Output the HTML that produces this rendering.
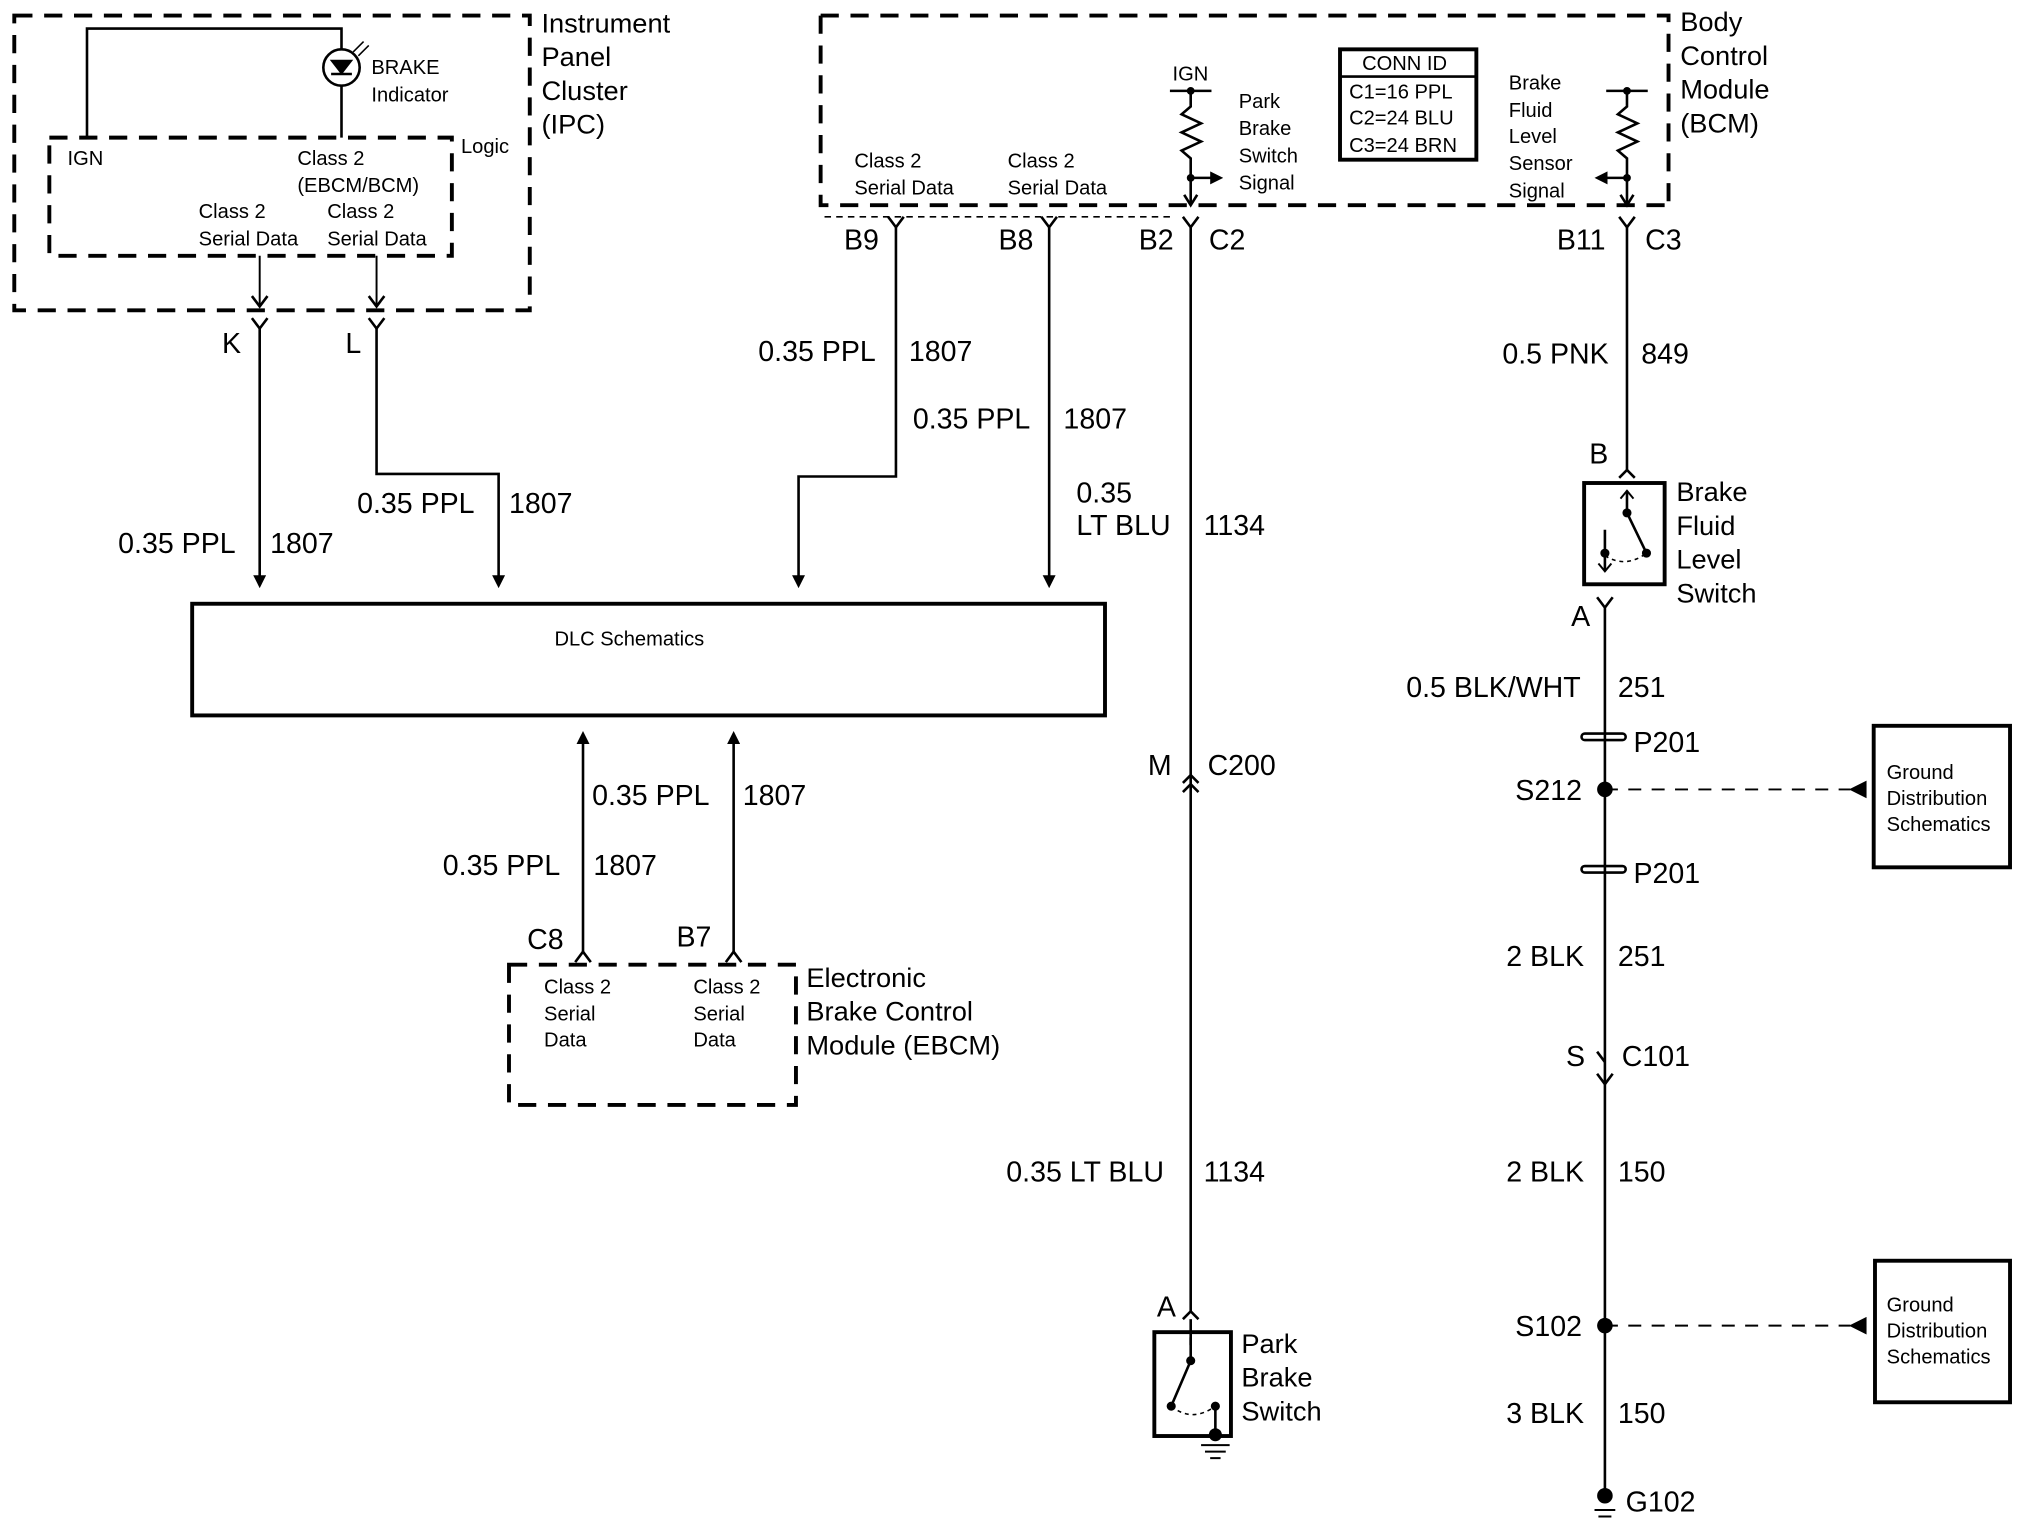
<!DOCTYPE html>
<html><head><meta charset="utf-8"><style>
html,body{margin:0;padding:0;background:#fff;}
svg{display:block}
text{font-family:"Liberation Sans",Arial,sans-serif;fill:#000}
.l{font-size:21px}
.s{font-size:15.5px}
.m{font-size:22px}
</style></head><body>
<svg width="2036" height="1536" viewBox="0 0 1568 1183" preserveAspectRatio="none" xmlns="http://www.w3.org/2000/svg">
<defs>
<marker id="ar" markerWidth="10" markerHeight="10" refX="5" refY="5" orient="auto" markerUnits="userSpaceOnUse"><path d="M0,0 L10,5 L0,10 z" fill="#000"/></marker>
</defs>
<g fill="none" stroke="#000">
<rect x="11" y="12" width="397" height="227" stroke-width="3" stroke-dasharray="14,9"/>
<rect x="38" y="106" width="310" height="91" stroke-width="3" stroke-dasharray="14,9"/>
<path d="M67,106 V22 H263 V38 M263,66 V106" stroke-width="2"/>
<circle cx="263" cy="52" r="14" stroke-width="2"/>
<path d="M256,47 H270 L263,56 Z M255,57 H271" stroke-width="2" fill="#000"/>
<path d="M272,40 L280,32 M276,43 L284,35" stroke-width="1.2"/>
<path d="M200,197 V236 M290,197 V236" stroke-width="1.5"/>
<path d="M194,228 L200,236 L206,228 M284,228 L290,236 L296,228" stroke-width="2"/>
<path d="M194,245 L200,253 L206,245 M284,245 L290,253 L296,245" stroke-width="2"/>
<path d="M200,253 V448" stroke-width="2" marker-end="url(#ar)"/>
<path d="M290,253 V365 H384 V448" stroke-width="2" marker-end="url(#ar)"/>
<path d="M632,12 H1285 V158 M632,12 V158 H1285" stroke-width="3" stroke-dasharray="14,9"/>
<path d="M635,167 H905" stroke-width="1.2" stroke-dasharray="5,4"/>
<path d="M684,167 L690,175 L696,167 M802,167 L808,175 L814,167 M911,167 L917,175 L923,167 M1247,167 L1253,175 L1259,167" stroke-width="2"/>
<path d="M690,175 V367 H615 V448" stroke-width="2" marker-end="url(#ar)"/>
<path d="M808,175 V448" stroke-width="2" marker-end="url(#ar)"/>
<path d="M901,70 H933 M917,70 V82 L910,88 L925,95 L910,102 L925,109 L910,116 L917,122 V158" stroke-width="2"/>
<path d="M917,137 H937" stroke-width="2" marker-end="url(#ar)"/>
<path d="M912,150 L917,158 L922,150" stroke-width="2"/>
<path d="M1237,70 H1269 M1253,70 V82 L1246,88 L1261,95 L1246,102 L1261,109 L1246,116 L1253,122 V158" stroke-width="2"/>
<path d="M1253,137 H1233" stroke-width="2" marker-end="url(#ar)"/>
<path d="M1248,150 L1253,158 L1258,150" stroke-width="2"/>
<rect x="1032" y="38" width="105" height="85" stroke-width="3"/>
<path d="M1032,59 H1137" stroke-width="2"/>
<rect x="148" y="465" width="703" height="86" stroke-width="3"/>
<rect x="392" y="743" width="221" height="108" stroke-width="3" stroke-dasharray="14,9"/>
<path d="M443,741 L449,733 L455,741 M559,741 L565,733 L571,741" stroke-width="2"/>
<path d="M449,733 V568" stroke-width="2" marker-end="url(#ar)"/>
<path d="M565,733 V568" stroke-width="2" marker-end="url(#ar)"/>
<path d="M917,175 V1010" stroke-width="2"/>
<path d="M911,603 L917,597 L923,603 M911,610 L917,604 L923,610" stroke-width="2"/>
<path d="M911,1016 L917,1010 L923,1016" stroke-width="2"/>
<rect x="889" y="1026" width="59" height="80" stroke-width="3"/>
<path d="M917,1016 V1036" stroke-width="2"/>
<path d="M917,1030 V1048 L902,1083" stroke-width="2"/>
<path d="M902,1083 Q918,1096 936,1083" stroke-width="1.2" stroke-dasharray="3,3"/>
<path d="M936,1083 V1105" stroke-width="2"/>
<path d="M925,1113 H947 M928,1118 H944 M932,1123 H940" stroke-width="1.5"/>
<path d="M1253,175 V362" stroke-width="2"/>
<path d="M1247,368 L1253,362 L1259,368" stroke-width="2"/>
<rect x="1220" y="372" width="62" height="78" stroke-width="3"/>
<path d="M1253,378 V395 L1268,426 M1236,408 V440" stroke-width="2"/>
<path d="M1248,384 L1253,378 L1258,384 M1231,434 L1236,440 L1241,434" stroke-width="1.5"/>
<path d="M1236,428 Q1252,438 1268,426" stroke-width="1.2" stroke-dasharray="3,3"/>
<path d="M1230,460 L1236,468 L1242,460 M1236,468 V1150" stroke-width="2"/>
<path d="M1230,827 L1236,835 L1242,827 M1230,810 L1236,818" stroke-width="2"/>
<rect x="1218" y="565" width="34" height="5" rx="2.5" stroke-width="2"/>
<rect x="1218" y="667" width="34" height="5" rx="2.5" stroke-width="2"/>
<path d="M1236,608 H1425 M1236,1021 H1425" stroke-width="1.5" stroke-dasharray="10,8"/>
<path d="M1425,608 L1437,602 V614 Z M1425,1021 L1437,1015 V1027 Z" fill="#000" stroke-width="1"/>
<rect x="1443" y="559" width="105" height="109" stroke-width="3"/>
<rect x="1444" y="971" width="104" height="109" stroke-width="3"/>
</g>
<g fill="#000">
<circle cx="1236" cy="608" r="6"/><circle cx="1236" cy="1021" r="6"/><circle cx="1236" cy="1152" r="6"/>
<circle cx="917" cy="1048" r="3.5"/><circle cx="902" cy="1083" r="3.5"/><circle cx="936" cy="1083" r="3.5"/><circle cx="936" cy="1105" r="5"/>
<circle cx="1253" cy="395" r="3.5"/><circle cx="1268" cy="426" r="3.5"/><circle cx="1236" cy="426" r="3.5"/>
<circle cx="917" cy="70" r="3"/><circle cx="917" cy="137" r="3"/><circle cx="1253" cy="70" r="3"/><circle cx="1253" cy="137" r="3"/>
</g>
<path d="M1228,1163 H1244 M1231,1168 H1241" stroke="#000" stroke-width="1.5"/>
<text class="l" x="417" y="25">Instrument</text><text class="l" x="417" y="51">Panel</text><text class="l" x="417" y="77">Cluster</text><text class="l" x="417" y="103">(IPC)</text>
<text class="s" x="286" y="57">BRAKE</text><text class="s" x="286" y="78">Indicator</text>
<text class="s" x="355" y="118">Logic</text>
<text class="s" x="52" y="127">IGN</text>
<text class="s" x="229" y="127">Class 2</text><text class="s" x="229" y="148">(EBCM/BCM)</text>
<text class="s" x="153" y="168">Class 2</text><text class="s" x="153" y="189">Serial Data</text>
<text class="s" x="252" y="168">Class 2</text><text class="s" x="252" y="189">Serial Data</text>
<text class="m" x="171" y="272">K</text><text class="m" x="266" y="272">L</text>
<text class="m" x="91" y="426">0.35 PPL</text><text class="m" x="208" y="426">1807</text>
<text class="m" x="275" y="395">0.35 PPL</text><text class="m" x="392" y="395">1807</text>
<text class="m" x="584" y="278">0.35 PPL</text><text class="m" x="700" y="278">1807</text>
<text class="m" x="703" y="330">0.35 PPL</text><text class="m" x="819" y="330">1807</text>
<text class="m" x="829" y="387">0.35</text><text class="m" x="829" y="412">LT BLU</text><text class="m" x="927" y="412">1134</text>
<text class="l" x="1294" y="24">Body</text><text class="l" x="1294" y="50">Control</text><text class="l" x="1294" y="76">Module</text><text class="l" x="1294" y="102">(BCM)</text>
<text class="s" x="658" y="129">Class 2</text><text class="s" x="658" y="150">Serial Data</text>
<text class="s" x="776" y="129">Class 2</text><text class="s" x="776" y="150">Serial Data</text>
<text class="s" x="903" y="62">IGN</text>
<text class="s" x="954" y="83">Park</text><text class="s" x="954" y="104">Brake</text><text class="s" x="954" y="125">Switch</text><text class="s" x="954" y="146">Signal</text>
<text class="s" x="1049" y="54">CONN ID</text>
<text class="s" x="1039" y="76">C1=16 PPL</text><text class="s" x="1039" y="96">C2=24 BLU</text><text class="s" x="1039" y="117">C3=24 BRN</text>
<text class="s" x="1162" y="69">Brake</text><text class="s" x="1162" y="90">Fluid</text><text class="s" x="1162" y="110">Level</text><text class="s" x="1162" y="131">Sensor</text><text class="s" x="1162" y="152">Signal</text>
<text class="m" x="650" y="192">B9</text><text class="m" x="769" y="192">B8</text><text class="m" x="877" y="192">B2</text><text class="m" x="931" y="192">C2</text>
<text class="m" x="1199" y="192">B11</text><text class="m" x="1267" y="192">C3</text>
<text class="m" x="1157" y="280">0.5 PNK</text><text class="m" x="1264" y="280">849</text>
<text class="m" x="1224" y="357">B</text>
<text class="l" x="1291" y="386">Brake</text><text class="l" x="1291" y="412">Fluid</text><text class="l" x="1291" y="438">Level</text><text class="l" x="1291" y="464">Switch</text>
<text class="m" x="1210" y="482">A</text>
<text class="m" x="1083" y="537">0.5 BLK/WHT</text><text class="m" x="1246" y="537">251</text>
<text class="m" x="1258" y="579">P201</text>
<text class="m" x="1167" y="616">S212</text>
<text class="m" x="1258" y="680">P201</text>
<text class="m" x="1160" y="744">2 BLK</text><text class="m" x="1246" y="744">251</text>
<text class="m" x="1206" y="821">S</text><text class="m" x="1249" y="821">C101</text>
<text class="m" x="1160" y="910">2 BLK</text><text class="m" x="1246" y="910">150</text>
<text class="m" x="1167" y="1029">S102</text>
<text class="m" x="1160" y="1096">3 BLK</text><text class="m" x="1246" y="1096">150</text>
<text class="m" x="1252" y="1164">G102</text>
<text class="s" x="1453" y="600">Ground</text><text class="s" x="1453" y="620">Distribution</text><text class="s" x="1453" y="640">Schematics</text>
<text class="s" x="1453" y="1010">Ground</text><text class="s" x="1453" y="1030">Distribution</text><text class="s" x="1453" y="1050">Schematics</text>
<text class="s" x="427" y="497">DLC Schematics</text>
<text class="m" x="456" y="620">0.35 PPL</text><text class="m" x="572" y="620">1807</text>
<text class="m" x="341" y="674">0.35 PPL</text><text class="m" x="457" y="674">1807</text>
<text class="m" x="406" y="731">C8</text><text class="m" x="521" y="729">B7</text>
<text class="s" x="419" y="765">Class 2</text><text class="s" x="419" y="786">Serial</text><text class="s" x="419" y="806">Data</text>
<text class="s" x="534" y="765">Class 2</text><text class="s" x="534" y="786">Serial</text><text class="s" x="534" y="806">Data</text>
<text class="l" x="621" y="760">Electronic</text><text class="l" x="621" y="786">Brake Control</text><text class="l" x="621" y="812">Module (EBCM)</text>
<text class="m" x="884" y="597">M</text><text class="m" x="930" y="597">C200</text>
<text class="m" x="775" y="910">0.35 LT BLU</text><text class="m" x="927" y="910">1134</text>
<text class="m" x="891" y="1014">A</text>
<text class="l" x="956" y="1042">Park</text><text class="l" x="956" y="1068">Brake</text><text class="l" x="956" y="1094">Switch</text>
</svg>
</body></html>
